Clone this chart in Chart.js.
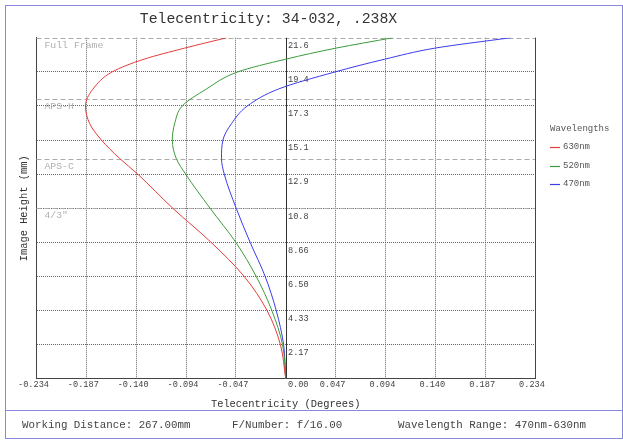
<!DOCTYPE html>
<html>
<head>
<meta charset="utf-8">
<script src="https://cdn.jsdelivr.net/npm/chart.js@4/dist/chart.umd.min.js"></script>
<style>
  html, body { margin: 0; padding: 0; background: #fff; }
</style>
</head>
<body>
<canvas id="teleChart" width="623" height="443"></canvas>
<script>
// image height (mm) at which each telecentricity value was read
var heights = [0, 2.17, 4.33, 6.50, 8.66, 10.83, 13.0, 14.0, 15.16, 16.2, 17.33, 18.4, 19.49, 20.3, 21.0, 21.66];

// telecentricity (degrees) per wavelength
var red630   = [0, -0.005, -0.0175, -0.039, -0.070, -0.106, -0.139, -0.156, -0.173, -0.184, -0.188, -0.181, -0.163, -0.133, -0.095, -0.0555];
var green520 = [0, -0.003, -0.013, -0.0277, -0.0468, -0.071, -0.094, -0.1028, -0.1065, -0.1043, -0.0971, -0.0746, -0.0451, 0.0, 0.047, 0.1005];
var blue470  = [0, -0.002, -0.0089, -0.0193, -0.0334, -0.0465, -0.0577, -0.0603, -0.059, -0.051, -0.036, -0.007, 0.0463, 0.093, 0.14, 0.211];

var seriesNames = ['630nm', '520nm', '470nm'];

var xTickValues = [-0.234, -0.1872, -0.1404, -0.0936, -0.0468, 0, 0.0468, 0.0936, 0.1404, 0.1872, 0.234];
var xTickLabels = ['-0.234', '-0.187', '-0.140', '-0.094', '-0.047', '      0.00', '0.047', '0.094', '0.140', '0.187', '0.234'];

var yTickValues = [0, 2.166, 4.332, 6.498, 8.664, 10.83, 12.996, 15.162, 17.328, 19.494, 21.66];
var yTickLabels = ['', '2.17', '4.33', '6.50', '8.66', '10.8', '12.9', '15.1', '17.3', '19.4', '21.6'];

var sensorNames = ['Full Frame', 'APS-H', 'APS-C', '4/3"'];
var sensorHeights = [21.63, 17.78, 13.98, 10.82];

var footerTexts = ['Working Distance: 267.00mm', 'F/Number: f/16.00', 'Wavelength Range: 470nm-630nm'];

var mono = "'Liberation Mono', 'DejaVu Sans Mono', monospace";

function toPoints(values) {
    return values.map(function (v, i) {
        return { x: v, y: heights[i] };
    });
}

var extras = {
    id: 'extras',
    beforeDatasetsDraw: function (chart) {
        var ctx = chart.ctx;
        var a = chart.chartArea;
        var xs = chart.scales.x;
        var ys = chart.scales.y;
        ctx.save();

        // sensor size lines
        ctx.lineWidth = 1;
        ctx.strokeStyle = '#aaaaaa';
        ctx.setLineDash([5, 3]);
        sensorHeights.forEach(function (h) {
            var y = Math.round(ys.getPixelForValue(h)) + 0.5;
            ctx.beginPath();
            ctx.moveTo(a.left, y);
            ctx.lineTo(a.right, y);
            ctx.stroke();
        });
        ctx.setLineDash([]);

        ctx.fillStyle = '#b0b0b0';
        ctx.font = '9.8px ' + mono;
        ctx.textAlign = 'left';
        ctx.textBaseline = 'middle';
        sensorHeights.forEach(function (h, i) {
            var y = Math.round(ys.getPixelForValue(h));
            ctx.fillText(sensorNames[i], a.left + 8, y + 7);
        });

        // zero line and right border
        var x0 = Math.round(xs.getPixelForValue(0)) + 0.5;
        ctx.strokeStyle = '#333333';
        ctx.beginPath();
        ctx.moveTo(x0, a.top);
        ctx.lineTo(x0, a.bottom);
        ctx.stroke();
        ctx.strokeStyle = '#444444';
        ctx.beginPath();
        ctx.moveTo(Math.round(a.right) + 0.5, a.top);
        ctx.lineTo(Math.round(a.right) + 0.5, a.bottom);
        ctx.stroke();

        // height labels next to the zero line
        ctx.fillStyle = '#444444';
        ctx.font = '8.6px ' + mono;
        yTickValues.forEach(function (v, i) {
            if (!yTickLabels[i]) return;
            ctx.fillText(yTickLabels[i], x0 + 1.5, ys.getPixelForValue(v) + 8);
        });
        ctx.restore();
    },
    afterDraw: function (chart) {
        var ctx = chart.ctx;
        var a = chart.chartArea;
        ctx.save();

        // legend
        ctx.textAlign = 'left';
        ctx.textBaseline = 'middle';
        ctx.font = '9px ' + mono;
        ctx.fillStyle = '#555555';
        var lx = a.right + 15;
        ctx.fillText('Wavelengths', lx, 129);
        chart.data.datasets.forEach(function (ds, i) {
            var y = Math.round(147 + i * 18.6);
            ctx.strokeStyle = ds.borderColor;
            ctx.lineWidth = 1.2;
            ctx.beginPath();
            ctx.moveTo(lx, y + 0.5);
            ctx.lineTo(lx + 10, y + 0.5);
            ctx.stroke();
            ctx.fillText(ds.label, lx + 13, y);
        });

        // outer frame and footer
        ctx.strokeStyle = '#8888dd';
        ctx.lineWidth = 1;
        ctx.strokeRect(5.5, 5.5, 617, 433);
        ctx.beginPath();
        ctx.moveTo(5.5, 410.5);
        ctx.lineTo(622.5, 410.5);
        ctx.stroke();

        ctx.fillStyle = '#444444';
        ctx.font = '10.8px ' + mono;
        var fx = [22, 232, 398];
        footerTexts.forEach(function (t, i) {
            ctx.fillText(t, fx[i], 425);
        });
        ctx.restore();
    }
};

var ctx = document.getElementById('teleChart').getContext('2d');

function makeDataset(i, values, color) {
    return {
        label: seriesNames[i],
        data: toPoints(values),
        borderColor: color,
        backgroundColor: color,
        borderWidth: 1,
        pointRadius: 0,
        fill: false,
        cubicInterpolationMode: 'monotone'
    };
}

var chart = new Chart(ctx, {
    type: 'line',
    data: {
        datasets: [
            makeDataset(0, red630, 'rgb(230, 60, 60)'),
            makeDataset(1, green520, 'rgb(60, 155, 60)'),
            makeDataset(2, blue470, 'rgb(60, 60, 235)')
        ]
    },
    options: {
        responsive: false,
        animation: false,
        devicePixelRatio: 1,
        indexAxis: 'y',
        layout: {
            padding: { left: 2, right: 88, top: 5, bottom: 31 }
        },
        plugins: {
            legend: { display: false },
            tooltip: { enabled: false },
            title: {
                display: true,
                text: 'Telecentricity: 34-032, .238X',
                color: '#333333',
                font: { family: mono, size: 14.8, weight: 'normal' },
                padding: { top: 5, bottom: 10 }
            }
        },
        scales: {
            x: {
                type: 'linear',
                min: -0.234,
                max: 0.234,
                afterBuildTicks: function (scale) {
                    scale.ticks = xTickValues.map(function (v) { return { value: v }; });
                },
                ticks: {
                    autoSkip: false,
                    maxRotation: 0,
                    padding: 1,
                    labelOffset: -3,
                    color: '#444444',
                    font: { family: mono, size: 8.6 },
                    callback: function (value, index) { return xTickLabels[index]; }
                },
                grid: {
                    drawTicks: false,
                    color: function (c) {
                        return (c.tick && c.tick.value === 0) ? 'rgba(0,0,0,0)' : '#666666';
                    }
                },
                border: { color: '#444444', dash: [1, 1] },
                title: {
                    display: true,
                    text: 'Telecentricity (Degrees)',
                    color: '#333333',
                    font: { family: mono, size: 10.4 },
                    padding: { top: 6.4, bottom: 2 }
                }
            },
            y: {
                type: 'linear',
                min: 0,
                max: 21.66,
                afterBuildTicks: function (scale) {
                    scale.ticks = yTickValues.map(function (v) { return { value: v }; });
                },
                ticks: { display: false },
                grid: {
                    drawTicks: false,
                    color: function (c) {
                        if (!c.tick) return '#666666';
                        return (c.index === 0 || c.index === yTickValues.length - 1) ? 'rgba(0,0,0,0)' : '#666666';
                    }
                },
                border: { color: '#444444', dash: [1, 1] },
                title: {
                    display: true,
                    text: 'Image Height (mm)',
                    color: '#333333',
                    font: { family: mono, size: 10.4 },
                    padding: { top: 16, bottom: 6 }
                }
            }
        }
    },
    plugins: [extras]
});
</script>
</body>
</html>
